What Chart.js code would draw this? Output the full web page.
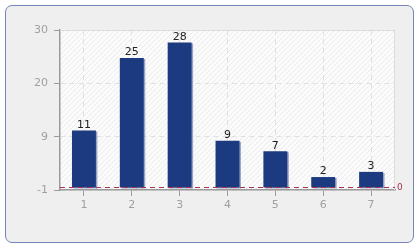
<!DOCTYPE html>
<html>
<head>
<meta charset="utf-8">
<script src="https://cdn.jsdelivr.net/npm/chart.js@4/dist/chart.umd.min.js"></script>
<style>
  html, body { margin: 0; padding: 0; background: #ffffff; }
  #frame { position: absolute; left: 5px; top: 5px; width: 407px; height: 236px;
           border: 1.5px solid #7485b6; border-radius: 7px; background: #efefef; }
  #wrap { position: absolute; left: 0; top: 0; width: 420px; height: 250px; }
</style>
</head>
<body>
<div id="frame"></div>
<div id="wrap"><canvas id="c" width="420" height="250"></canvas></div>
<script>
const categories = ['1', '2', '3', '4', '5', '6', '7'];
const values = [11, 25, 28, 9, 7, 2, 3];
const yTickLabels = ['-1', '9', '20', '30'];
const yMin = -0.5;
const yMax = 30.4;
const referenceValue = 0;

const hatch = (() => {
  const c = document.createElement('canvas');
  c.width = 5; c.height = 5;
  const g = c.getContext('2d');
  g.fillStyle = '#fbfbfb';
  g.fillRect(0, 0, 5, 5);
  g.strokeStyle = '#ebebeb';
  g.lineWidth = 1;
  g.beginPath();
  g.moveTo(-1, 6); g.lineTo(6, -1);
  g.stroke();
  return c;
})();

const plotBg = {
  id: 'plotBg',
  beforeDraw(chart) {
    const { ctx, chartArea: a } = chart;
    ctx.save();
    ctx.fillStyle = ctx.createPattern(hatch, 'repeat');
    ctx.fillRect(a.left, a.top, a.right - a.left, a.bottom - a.top);
    ctx.restore();
  },
  beforeDatasetsDraw(chart) {
    const { ctx, chartArea: a } = chart;
    ctx.save();
    ctx.strokeStyle = '#dcdcdc';
    ctx.lineWidth = 1;
    ctx.beginPath();
    ctx.moveTo(a.left, a.top + 0.5);
    ctx.lineTo(a.right - 0.5, a.top + 0.5);
    ctx.lineTo(a.right - 0.5, a.bottom);
    ctx.stroke();
    ctx.restore();
    ctx.save();
    ctx.shadowColor = 'rgba(40,60,130,0.45)';
    ctx.shadowOffsetX = 1.5;
    ctx.shadowOffsetY = 1;
    ctx.shadowBlur = 0;
  },
  afterDatasetsDraw(chart) {
    const { ctx, chartArea: a, scales } = chart;
    ctx.restore();
    // reference line at zero
    const y = Math.round(scales.y.getPixelForValue(referenceValue)) + 0.5;
    ctx.save();
    ctx.strokeStyle = '#a8344f';
    ctx.lineWidth = 1;
    ctx.setLineDash([5, 4]);
    ctx.beginPath();
    ctx.moveTo(a.left, y);
    ctx.lineTo(a.right, y);
    ctx.stroke();
    ctx.setLineDash([]);
    ctx.fillStyle = '#a8344f';
    ctx.font = '9px "DejaVu Sans"';
    ctx.textAlign = 'left';
    ctx.textBaseline = 'middle';
    ctx.fillText(String(referenceValue), a.right + 2, y);
    ctx.restore();
    // value labels
    const meta = chart.getDatasetMeta(0);
    ctx.save();
    ctx.fillStyle = '#222222';
    ctx.font = '11px "DejaVu Sans"';
    ctx.textAlign = 'center';
    ctx.textBaseline = 'bottom';
    meta.data.forEach((bar, i) => {
      ctx.fillText(String(values[i]), bar.x, bar.y);
    });
    ctx.restore();
  }
};

new Chart(document.getElementById('c'), {
  type: 'bar',
  data: {
    labels: categories,
    datasets: [{
      data: values,
      backgroundColor: '#1b3a80',
      borderWidth: 0,
      barPercentage: 0.5,
      categoryPercentage: 1.0
    }]
  },
  options: {
    responsive: false,
    animation: false,
    events: [],
    layout: { padding: { top: 30, right: 25, left: 0, bottom: 0 } },
    plugins: { legend: { display: false }, tooltip: { enabled: false }, title: { display: false } },
    scales: {
      x: {
        offset: true,
        grid: { offset: false, color: '#e0e0e0', tickColor: '#9a9a9a', tickLength: 6, tickBorderDash: [] },
        border: { color: '#9a9a9a', width: 1.5, dash: [5, 4] },
        ticks: { color: '#a0a0a0', font: { family: 'DejaVu Sans', size: 11 }, padding: 3 },
        afterFit(s) { s.height = 60; }
      },
      y: {
        min: yMin,
        max: yMax,
        afterBuildTicks(s) {
          s.ticks = yTickLabels.map((_, i) => ({ value: yMin + i * (yMax - yMin) / (yTickLabels.length - 1) }));
        },
        grid: { color: '#e0e0e0', tickColor: '#9a9a9a', tickLength: 6, tickBorderDash: [] },
        border: { color: '#9a9a9a', width: 1.5, dash: [5, 4] },
        ticks: {
          color: '#a0a0a0', font: { family: 'DejaVu Sans', size: 11 }, padding: 6,
          callback(v, i) { return yTickLabels[i]; }
        },
        afterFit(s) { s.width = 60; }
      }
    }
  },
  plugins: [plotBg]
});
</script>
</body>
</html>
